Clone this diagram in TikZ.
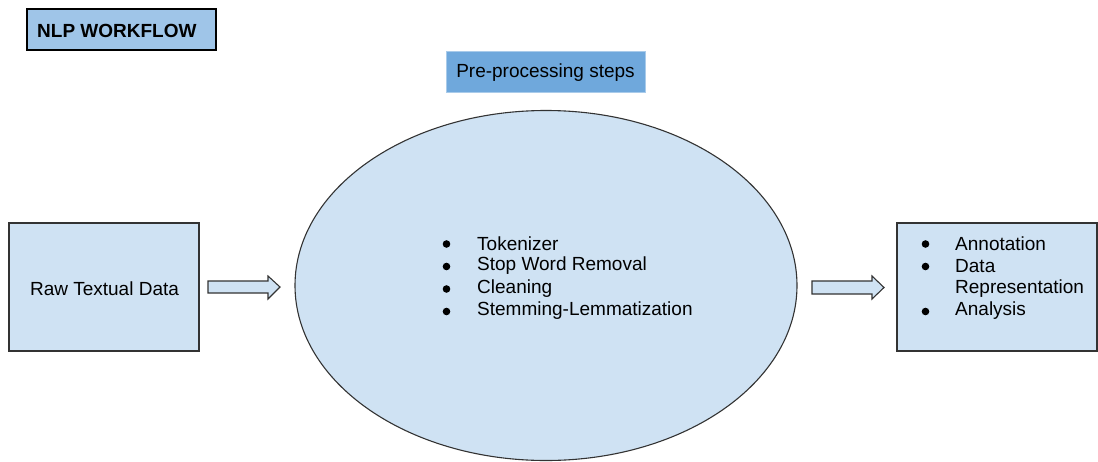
\documentclass[tikz,border=0pt]{standalone}
\usepackage{fontspec}
\setmainfont{Liberation Sans}
\usetikzlibrary{shapes.geometric}
\definecolor{hdr}{HTML}{9FC5E8}
\definecolor{pre}{HTML}{6FA8DC}
\definecolor{lite}{HTML}{CFE2F3}
\definecolor{edge}{HTML}{333333}
\tikzset{
  box/.style={draw=edge, line width=1.1pt, fill=lite, inner sep=0pt},
  txt/.style={font=\fontsize{19}{22}\selectfont, inner sep=0pt, text=black},
  item/.style={txt, anchor=west},
  dot/.style={fill=black},
  blockarrow/.style={draw=edge, line width=1.1pt, fill=lite, line join=miter},
}
\begin{document}
\begin{tikzpicture}[x=1pt,y=-1pt]
\useasboundingbox (0,0) rectangle (1098,461);
% title
\draw[draw=black, line width=1.1pt, fill=hdr] (27,9) rectangle (216,50);
\node[txt, font=\fontsize{19}{22}\selectfont\bfseries, anchor=west] (title) at (37,30.5) {NLP WORKFLOW};
% pre-processing label
\fill[pre] (446,51) rectangle (645,92);
\draw[draw=lite!60!pre, line width=0.5pt] (446,51) rectangle (645,92);
\node[txt] (pre) at (545.5,72.5) {Pre-processing steps};
% ellipse
\draw[box] (546,285.5) ellipse [x radius=251, y radius=175];
\coordinate (ell) at (546,285.5);
% raw box
\draw[box] (9,223) rectangle (199,351);
\node[txt] (raw) at (104.5,288.5) {Raw Textual Data};
% right box
\draw[box] (897,223) rectangle (1097,351);
% arrows
\draw[blockarrow] (208,281) -- (268,281) -- (268,276) -- (280,287) -- (268,299) -- (268,293) -- (208,293) -- cycle;
\draw[blockarrow] (812,281) -- (872,281) -- (872,276) -- (884,287.5) -- (872,299) -- (872,294) -- (812,294) -- cycle;
% ellipse list
\foreach \y/\t/\n in {243.5/Tokenizer/a, 266/Stop Word Removal/b, 288.5/Cleaning/c, 311/Stemming-Lemmatization/d}{
  \fill[dot] (446.5,\y+0.5) circle (3.8);
  \node[item] (e\n) at (477,\y) {\t};
}
% right list
\foreach \y in {243.5,266,311}{
  \fill[dot] (925.5,\y+0.5) circle (3.8);
}
\node[item] (r1) at (955,243.5) {Annotation};
\node[item] (r2) at (955,266) {Data};
\node[item] (r3) at (955,288.5) {Representation};
\node[item] (r4) at (955,311) {Analysis};
\end{tikzpicture}
\end{document}
